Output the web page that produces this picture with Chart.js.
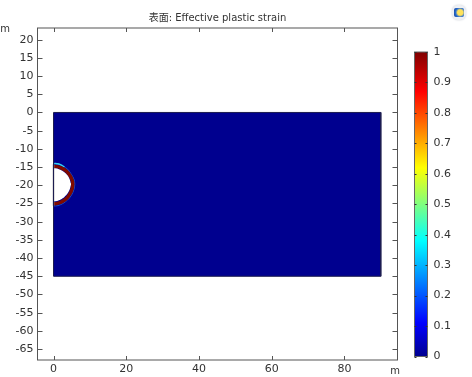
<!DOCTYPE html>
<html>
<head>
<meta charset="utf-8">
<script src="https://cdn.jsdelivr.net/npm/chart.js@4"></script>
<style>
html, body { margin: 0; padding: 0; background: #fff; overflow: hidden; }
#wrap { position: relative; width: 472px; height: 377px; }
#main { position: absolute; left: 0; top: 0; }
#bar { position: absolute; left: 400px; top: 0; }
#logo { position: absolute; left: 452px; top: 5px; width: 14px; height: 15px; border-radius: 6px;
  background: #eef0f4; box-shadow: 0 0 2px #c8ccd4; }
#logo div { position: absolute; left: 2px; top: 3px; width: 10px; height: 9px; border-radius: 2px;
  background: radial-gradient(circle at 62% 50%, #ffe25a 0 35%, #2a6fd0 60%, #123a90 100%); }
</style>
</head>
<body>
<div id="wrap">
  <canvas id="main" width="472" height="377"></canvas>
  <canvas id="bar" width="72" height="377"></canvas>
  <div id="logo"><div></div></div>
</div>
<script>
var titleText = '表面: Effective plastic strain';
var xTicks = [0, 20, 40, 60, 80];
var yTicks = [20, 15, 10, 5, 0, -5, -10, -15, -20, -25, -30, -35, -40, -45, -50, -55, -60, -65];
var barTicks = [0, 0.1, 0.2, 0.3, 0.4, 0.5, 0.6, 0.7, 0.8, 0.9, 1];
var barColors = ['#00008f', '#0000ff', '#00ffff', '#ffff00', '#ff0000', '#7f0000'];
var barStops = [0, 0.11, 0.38, 0.62, 0.87, 1];

// block of material
var blockTop = [[0, 0], [90, 0]];
var blockLine = [[0, 0], [90, 0], [90, -45], [0, -45], [0, 0]];
var blockBottom = -45;

// tunnel hole
var holeUpper = [[0, -15.3], [1, -15.4], [2, -15.8], [3, -16.4], [3.9, -17.3], [4.5, -18.5], [4.8, -19.7]];
var holeLower = [[4.8, -19.7], [4.5, -21], [3.9, -22.2], [3, -23.2], [2, -23.9], [1, -24.3], [0, -24.4]];
var holeSeam = [[0, -19.7], [4.8, -19.7]];
var holeEdge = [[0, -14.2], [0, -25.6]];
var holeMiddle = -19.7;
var ring = [[0, -14.8], [1, -14.9], [2.2, -15.3], [3.5, -16.1], [4.5, -17.3], [5.1, -18.5], [5.3, -19.7], [5.1, -21], [4.5, -22.4], [3.5, -23.7], [2.2, -24.6], [1, -25], [0, -25.1]];
var ringEdge = [[0, -14.1], [1.2, -14.2], [2.6, -14.7], [3.9, -15.6], [4.9, -17], [5.6, -18.3], [5.85, -19.7], [5.6, -21.2], [4.9, -22.8], [3.9, -24], [2.6, -25], [1.2, -25.6], [0, -25.7]];
var capTip = [[0.2, -14], [1.2, -14.1], [2.2, -14.5], [3, -15]];

function pts(list) {
  return list.map(function (p) { return { x: p[0], y: p[1] }; });
}

function lineSet(list, color, width, fill, bg, tension) {
  return {
    data: pts(list),
    showLine: true,
    pointRadius: 0,
    borderColor: color,
    borderWidth: width,
    tension: tension || 0,
    fill: fill === undefined ? false : { value: fill },
    backgroundColor: bg || 'transparent'
  };
}

// inward ticks and the box round the plot, and the two unit labels
var boxPlugin = {
  id: 'box',
  afterDraw: function (chart) {
    var c = chart.ctx, a = chart.chartArea, sx = chart.scales.x, sy = chart.scales.y;
    c.save();
    c.strokeStyle = '#555';
    c.lineWidth = 1;
    c.strokeRect(a.left, a.top, a.right - a.left, a.bottom - a.top);
    c.beginPath();
    xTicks.forEach(function (v) {
      var px = Math.round(sx.getPixelForValue(v)) + 0.5;
      c.moveTo(px, a.top); c.lineTo(px, a.top + 4);
      c.moveTo(px, a.bottom); c.lineTo(px, a.bottom - 4);
    });
    yTicks.forEach(function (v) {
      var py = Math.round(sy.getPixelForValue(v)) + 0.5;
      c.moveTo(a.left, py); c.lineTo(a.left + 5, py);
      c.moveTo(a.right, py); c.lineTo(a.right - 5, py);
    });
    c.stroke();
    c.fillStyle = '#333';
    c.font = '10px "DejaVu Sans"';
    c.textAlign = 'center';
    c.textBaseline = 'middle';
    c.fillText('m', 5, 29);
    c.fillText('m', 395, 371);
    c.restore();
  }
};

new Chart(document.getElementById('main'), {
  type: 'scatter',
  data: {
    datasets: [
      lineSet(blockLine, '#1c1c50', 1),
      lineSet(holeEdge, '#999999', 1.6),
      lineSet(holeSeam, '#ffffff', 2),
      lineSet(holeUpper, '#ffffff', 0, holeMiddle, '#ffffff', 0.3),
      lineSet(holeLower, '#ffffff', 0, holeMiddle, '#ffffff', 0.3),
      lineSet(ring, '#7f0a00', 3.4, undefined, undefined, 0.3),
      lineSet(capTip, '#35d0f0', 1.4, undefined, undefined, 0.3),
      lineSet(ringEdge, '#1450d0', 1, undefined, undefined, 0.3),
      lineSet(blockTop, '#00008f', 0, blockBottom, '#00008f')
    ]
  },
  plugins: [boxPlugin],
  options: {
    responsive: false,
    animation: false,
    layout: { padding: { left: 0, right: 74.5, top: 0, bottom: 0 } },
    plugins: {
      legend: { display: false },
      tooltip: { enabled: false },
      title: {
        display: true,
        fullSize: false,
        text: titleText,
        color: '#333',
        font: { family: '"DejaVu Sans", "Noto Sans CJK SC"', size: 10, weight: 'normal' },
        padding: { top: 12, bottom: 4 }
      }
    },
    scales: {
      x: {
        type: 'linear',
        min: -4.4,
        max: 94.6,
        grid: { display: false, drawTicks: false },
        border: { display: false },
        afterBuildTicks: function (axis) { axis.ticks = xTicks.map(function (v) { return { value: v }; }); },
        afterFit: function (axis) { axis.height = 17; },
        ticks: {
          color: '#333', padding: 3, maxRotation: 0, autoSkip: false,
          font: { family: 'DejaVu Sans', size: 11 },
          callback: function (v) { return String(v); }
        }
      },
      y: {
        type: 'linear',
        min: -68,
        max: 23.2,
        grid: { display: false, drawTicks: false },
        border: { display: false },
        afterBuildTicks: function (axis) { axis.ticks = yTicks.map(function (v) { return { value: v }; }); },
        afterFit: function (axis) { axis.width = 37.5; },
        ticks: {
          color: '#333', padding: 4, autoSkip: false,
          font: { family: 'DejaVu Sans', size: 11 },
          callback: function (v) { return String(v); }
        }
      }
    }
  }
});

// colour bar
function barGradient(ctx) {
  var chart = ctx.chart, a = chart.chartArea;
  if (!a) return barColors[0];
  var g = chart.ctx.createLinearGradient(0, a.bottom, 0, a.top);
  barColors.forEach(function (col, i) { g.addColorStop(barStops[i], col); });
  return g;
}

var barTickPlugin = {
  id: 'barTicks',
  afterDraw: function (chart) {
    var c = chart.ctx, a = chart.chartArea, sy = chart.scales.y;
    c.save();
    c.strokeStyle = '#666';
    c.strokeRect(a.left, a.top, a.right - a.left, a.bottom - a.top);
    c.strokeStyle = '#333';
    c.beginPath();
    barTicks.forEach(function (v) {
      var py = Math.round(sy.getPixelForValue(v)) + 0.5;
      c.moveTo(a.left, py); c.lineTo(a.left + 2, py);
      c.moveTo(a.right, py); c.lineTo(a.right - 2, py);
    });
    c.stroke();
    c.restore();
  }
};

new Chart(document.getElementById('bar'), {
  type: 'bar',
  data: {
    labels: [''],
    datasets: [{
      data: [[0, 1]],
      backgroundColor: barGradient,
      borderWidth: 0,
      barPercentage: 1,
      categoryPercentage: 1
    }]
  },
  plugins: [barTickPlugin],
  options: {
    responsive: false,
    animation: false,
    layout: { padding: { left: 14.5, right: 0, top: 52, bottom: 20.5 } },
    plugins: { legend: { display: false }, tooltip: { enabled: false } },
    scales: {
      x: { display: false },
      y: {
        position: 'right',
        min: 0,
        max: 1,
        grid: { display: false, drawTicks: false },
        border: { display: false },
        afterBuildTicks: function (axis) { axis.ticks = barTicks.map(function (v) { return { value: v }; }); },
        afterFit: function (axis) { axis.width = 44.5; },
        ticks: {
          color: '#333', padding: 6, autoSkip: false,
          font: { family: 'DejaVu Sans', size: 11 },
          callback: function (v) { return String(v); }
        }
      }
    }
  }
});
</script>
</body>
</html>
